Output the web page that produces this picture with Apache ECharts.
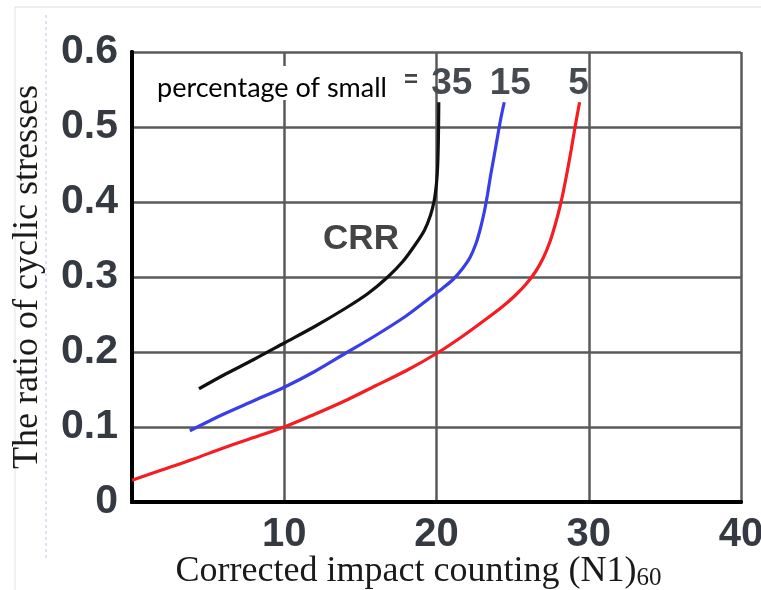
<!DOCTYPE html>
<html>
<head>
<meta charset="utf-8">
<script src="https://cdn.jsdelivr.net/npm/echarts@6/dist/echarts.min.js"></script>
<style>
html,body{margin:0;padding:0;background:#fff;}
#chart{width:761px;height:590px;}
</style>
</head>
<body>
<div id="chart"></div>
<script>
// Fines content labels (percentage of small particles)
const seriesNames = ['35', '15', '5'];
const seriesColors = ['#111111', '#3a3ee6', '#f51c22'];
// Curves: [corrected blow count (N1)60, cyclic stress ratio]
const curve35 = [[4.4,0.151],[6,0.169],[8,0.19],[10,0.212],[12,0.234],[14,0.258],[15.5,0.278],[16.8,0.3],[17.8,0.321],[18.6,0.343],[19.2,0.362],[19.6,0.382],[19.85,0.402],[20.0,0.425],[20.08,0.45],[20.12,0.48],[20.14,0.51],[20.15,0.533]];
const curve15 = [[3.8,0.095],[6,0.117],[8,0.135],[10,0.153],[12,0.174],[14,0.198],[16,0.222],[18,0.248],[19.5,0.271],[20.4,0.285],[21.1,0.297],[21.7,0.311],[22.2,0.326],[22.6,0.345],[22.9,0.366],[23.15,0.388],[23.35,0.41],[23.55,0.435],[23.8,0.463],[24.05,0.492],[24.25,0.514],[24.45,0.533]];
const curve5 = [[0,0.029],[2,0.043],[4,0.057],[6,0.072],[8,0.086],[10,0.1],[12,0.117],[14,0.135],[16,0.155],[18,0.175],[20,0.198],[21.5,0.218],[23,0.24],[24.3,0.26],[25.2,0.276],[25.9,0.291],[26.5,0.307],[27.0,0.325],[27.45,0.347],[27.8,0.37],[28.1,0.393],[28.35,0.416],[28.6,0.442],[28.85,0.47],[29.1,0.5],[29.4,0.533]];
const curves = [curve35, curve15, curve5];
const xTicks = [0, 10, 20, 30, 40];
const yTicks = [0, 0.1, 0.2, 0.3, 0.4, 0.5, 0.6];
const xTitle = 'Corrected impact counting (N1)';
const xTitleSub = '60';
const yTitle = 'The ratio of cyclic stresses';
const legendNote = 'percentage of small';
const curveNote = 'CRR';

const chart = echarts.init(document.getElementById('chart'), null, {renderer: 'canvas'});
const tickFont = {fontFamily: 'Liberation Sans, Arial, sans-serif', fontSize: 41, fontWeight: 'bold', color: '#353a42'};
const labelOffsets = [[9, 0], [2, 0], [-5, 0]];

const series = curves.map((c, i) => ({
  name: seriesNames[i],
  type: 'line',
  data: c,
  smooth: 0.3,
  showSymbol: false,
  symbol: 'none',
  lineStyle: {color: seriesColors[i], width: 3.2},
  z: 5,
  endLabel: {
    show: true,
    position: 'top',
    align: 'center',
    verticalAlign: 'bottom',
    distance: 4,
    offset: labelOffsets[i],
    formatter: seriesNames[i],
    fontFamily: 'Liberation Sans, Arial, sans-serif',
    fontSize: 37,
    fontWeight: 'bold',
    color: '#454a50'
  }
}));

chart.setOption({
  animation: false,
  backgroundColor: '#ffffff',
  grid: {left: 132, right: 20, top: 52, bottom: 88, containLabel: false, outerBoundsMode: 'none'},
  xAxis: [{
    type: 'value', min: xTicks[0], max: xTicks[xTicks.length - 1], interval: 10,
    axisLine: {show: true, lineStyle: {color: '#000', width: 4}},
    axisTick: {show: false},
    splitLine: {show: true, lineStyle: {color: '#5a5a5a', width: 2.5}},
    axisLabel: Object.assign({margin: 13, formatter: v => (v === 0 ? '' : String(v))}, tickFont, {fontSize: 40}),
    name: '{m|' + xTitle + '}{s|' + xTitleSub + '}',
    nameLocation: 'middle',
    nameGap: 51,
    nameMoveOverlap: false,
    nameTextStyle: {
      padding: [0, 36, 0, 0],
      rich: {
        m: {fontFamily: 'Liberation Serif, Times New Roman, serif', fontSize: 36, color: '#1a1a1a', lineHeight: 38},
        s: {fontFamily: 'Liberation Serif, Times New Roman, serif', fontSize: 25, color: '#1a1a1a', lineHeight: 18, verticalAlign: 'bottom'}
      }
    }
  }, {
    type: 'value', position: 'top', min: 0, max: 40, interval: 10,
    axisLine: {show: true, lineStyle: {color: '#000', width: 4}},
    axisTick: {show: false}, axisLabel: {show: false}, splitLine: {show: false}
  }],
  yAxis: [{
    type: 'value', min: yTicks[0], max: yTicks[yTicks.length - 1], interval: 0.1,
    axisLine: {show: true, lineStyle: {color: '#000', width: 4}},
    axisTick: {show: false},
    splitLine: {show: true, lineStyle: {color: '#5a5a5a', width: 2.5}},
    axisLabel: Object.assign({margin: 14, formatter: v => (v === 0 ? '0' : v.toFixed(1))}, tickFont),
    name: yTitle,
    nameLocation: 'middle',
    nameGap: 86,
    nameMoveOverlap: false,
    nameTextStyle: {fontFamily: 'Liberation Serif, Times New Roman, serif', fontSize: 36, color: '#1a1a1a'}
  }, {
    type: 'value', position: 'right', min: 0, max: 0.6, interval: 0.1,
    axisLine: {show: true, lineStyle: {color: '#000', width: 4}},
    axisTick: {show: false}, axisLabel: {show: false}, splitLine: {show: false}
  }],
  series: series,
  graphic: [
    {type: 'line', shape: {x1: 15, y1: 7, x2: 761, y2: 7}, style: {stroke: '#dcdcdc', lineWidth: 1}, silent: true},
    {type: 'line', shape: {x1: 15, y1: 7, x2: 15, y2: 590}, style: {stroke: '#e2e2e2', lineWidth: 1}, silent: true},
    {type: 'line', shape: {x1: 46, y1: 15, x2: 46, y2: 558}, style: {stroke: '#b8c8e8', lineWidth: 1, lineDash: [3, 3]}, silent: true},
    {type: 'rect', shape: {x: 148, y: 66, width: 252, height: 34}, style: {fill: '#ffffff'}, z: 10, silent: true},
    {type: 'text', x: 157, y: 88, z: 11, style: {text: legendNote, font: '27px Lato, "Noto Sans", sans-serif', fill: '#000', verticalAlign: 'middle', align: 'left'}},
    {type: 'text', x: 411, y: 80, z: 11, style: {text: '=', font: 'bold 24px "Liberation Sans", sans-serif', fill: '#444', verticalAlign: 'middle', align: 'center'}},
    {type: 'text', x: 361, y: 239, z: 11, style: {text: curveNote, font: 'bold 35px "Liberation Sans", Arial, sans-serif', fill: '#444', verticalAlign: 'middle', align: 'center'}}
  ]
});
</script>
</body>
</html>
